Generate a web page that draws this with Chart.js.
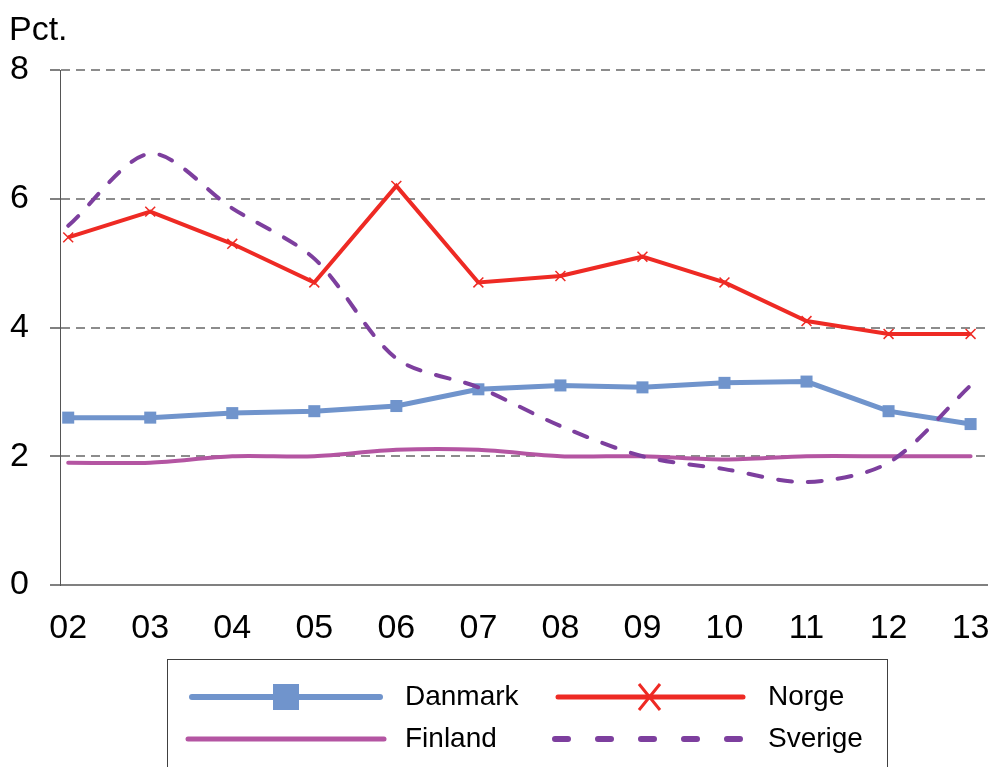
<!DOCTYPE html>
<html>
<head>
<meta charset="utf-8">
<script src="https://cdn.jsdelivr.net/npm/chart.js@4"></script>
<style>
    html, body { margin: 0; padding: 0; background: #fff; }
    #wrap { width: 992px; height: 767px; }
</style>
</head>
<body>
<div id="wrap"><canvas id="chart" width="992" height="767"></canvas></div>
<script>
const years = ['02', '03', '04', '05', '06', '07', '08', '09', '10', '11', '12', '13'];
const danmark = [2.6, 2.6, 2.67, 2.7, 2.78, 3.04, 3.1, 3.07, 3.14, 3.16, 2.7, 2.5];
const norge = [5.4, 5.8, 5.3, 4.7, 6.2, 4.7, 4.8, 5.1, 4.7, 4.1, 3.9, 3.9];
const finland = [1.9, 1.9, 2.0, 2.0, 2.1, 2.1, 2.0, 2.0, 1.95, 2.0, 2.0, 2.0];
const sverige = [5.58, 6.7, 5.85, 5.07, 3.52, 3.07, 2.47, 2.0, 1.8, 1.6, 1.9, 3.1];
const yTicks = [0, 2, 4, 6, 8];

const colors = {
    danmark: '#7094cc',
    norge: '#ee2a24',
    finland: '#b455a2',
    sverige: '#7d3f9e'
};
const FONT = '"Liberation Sans", Arial, sans-serif';

function points(arr) {
    return arr.map((v, i) => ({ x: i, y: v }));
}

// title "Pct." and the boxed legend below the plot
const extras = {
    id: 'extras',
    afterDraw(chart) {
        const ctx = chart.ctx;
        ctx.save();
        ctx.fillStyle = '#000';
        ctx.font = '34px ' + FONT;
        ctx.textBaseline = 'middle';
        ctx.textAlign = 'left';
        ctx.fillText('Pct.', 9, 31);

        ctx.strokeStyle = '#404040';
        ctx.lineWidth = 1;
        ctx.strokeRect(167.5, 659.5, 720, 130);

        ctx.font = '28px ' + FONT;
        ctx.lineCap = 'round';

        // Danmark
        ctx.strokeStyle = colors.danmark;
        ctx.lineWidth = 6;
        ctx.beginPath(); ctx.moveTo(192, 697); ctx.lineTo(380, 697); ctx.stroke();
        ctx.fillStyle = colors.danmark;
        ctx.fillRect(273, 684, 26, 26);
        ctx.fillStyle = '#000';
        ctx.fillText('Danmark', 405, 697);

        // Norge
        ctx.strokeStyle = colors.norge;
        ctx.lineWidth = 5;
        ctx.beginPath(); ctx.moveTo(558, 697); ctx.lineTo(743, 697); ctx.stroke();
        ctx.lineWidth = 3;
        ctx.lineCap = 'butt';
        ctx.beginPath();
        ctx.moveTo(639, 684); ctx.lineTo(660, 710);
        ctx.moveTo(660, 684); ctx.lineTo(639, 710);
        ctx.stroke();
        ctx.fillText('Norge', 768, 697);

        // Finland
        ctx.lineCap = 'round';
        ctx.strokeStyle = colors.finland;
        ctx.lineWidth = 5;
        ctx.beginPath(); ctx.moveTo(188, 739); ctx.lineTo(384, 739); ctx.stroke();
        ctx.fillText('Finland', 405, 739);

        // Sverige
        ctx.strokeStyle = colors.sverige;
        ctx.lineWidth = 6;
        ctx.setLineDash([13, 30]);
        ctx.beginPath(); ctx.moveTo(555, 739); ctx.lineTo(745, 739); ctx.stroke();
        ctx.setLineDash([]);
        ctx.fillText('Sverige', 768, 739);
        ctx.restore();
    }
};

new Chart(document.getElementById('chart'), {
    type: 'line',
    data: {
        datasets: [{
            label: 'Danmark',
            data: points(danmark),
            borderColor: colors.danmark,
            backgroundColor: colors.danmark,
            borderWidth: 5,
            pointStyle: 'rect',
            pointRadius: 8.5,
            pointBorderWidth: 0,
            order: 2
        }, {
            label: 'Norge',
            data: points(norge),
            borderColor: colors.norge,
            backgroundColor: colors.norge,
            borderWidth: 4,
            pointStyle: 'crossRot',
            pointRadius: 7,
            pointBorderWidth: 1.5,
            order: 0
        }, {
            label: 'Finland',
            data: points(finland),
            borderColor: colors.finland,
            borderWidth: 4,
            pointRadius: 0,
            tension: 0.3,
            borderCapStyle: 'round',
            order: 3
        }, {
            label: 'Sverige',
            data: points(sverige),
            borderColor: colors.sverige,
            borderWidth: 4,
            borderDash: [14, 16],
            borderCapStyle: 'round',
            pointRadius: 0,
            tension: 0.3,
            order: 1
        }]
    },
    options: {
        responsive: false,
        animation: false,
        layout: { autoPadding: false, padding: { top: 70, right: 5, bottom: 117, left: 0 } },
        plugins: {
            legend: { display: false },
            tooltip: { enabled: false }
        },
        scales: {
            x: {
                type: 'linear',
                min: -0.1,
                max: 11.2,
                afterBuildTicks: (scale) => {
                    scale.ticks = years.map((_, i) => ({ value: i }));
                },
                afterFit: (scale) => {
                    scale.height = 65;
                    scale.paddingLeft = 0;
                    scale.paddingRight = 0;
                },
                grid: { display: false, drawTicks: false },
                border: { display: true, color: '#808080', width: 2 },
                ticks: {
                    color: '#000',
                    font: { family: FONT, size: 34 },
                    padding: 23,
                    maxRotation: 0,
                    autoSkip: false,
                    callback: (v) => years[v]
                }
            },
            y: {
                min: 0,
                max: 8,
                afterBuildTicks: (scale) => {
                    scale.ticks = yTicks.map(v => ({ value: v }));
                },
                afterFit: (scale) => {
                    scale.width = 60;
                    scale.paddingTop = 0;
                    scale.paddingBottom = 0;
                },
                grid: {
                    color: (c) => c.tick && c.tick.value === 0 ? 'rgba(0,0,0,0)' : '#8c8c8c',
                    lineWidth: 2,
                    tickLength: 10,
                    tickColor: '#808080',
                    tickWidth: 2,
                    tickBorderDash: []
                },
                border: { display: true, color: '#555', width: 1, dash: [9, 6] },
                ticks: {
                    color: '#000',
                    font: { family: FONT, size: 34 },
                    padding: 21
                }
            }
        }
    },
    plugins: [extras]
});
</script>
</body>
</html>
